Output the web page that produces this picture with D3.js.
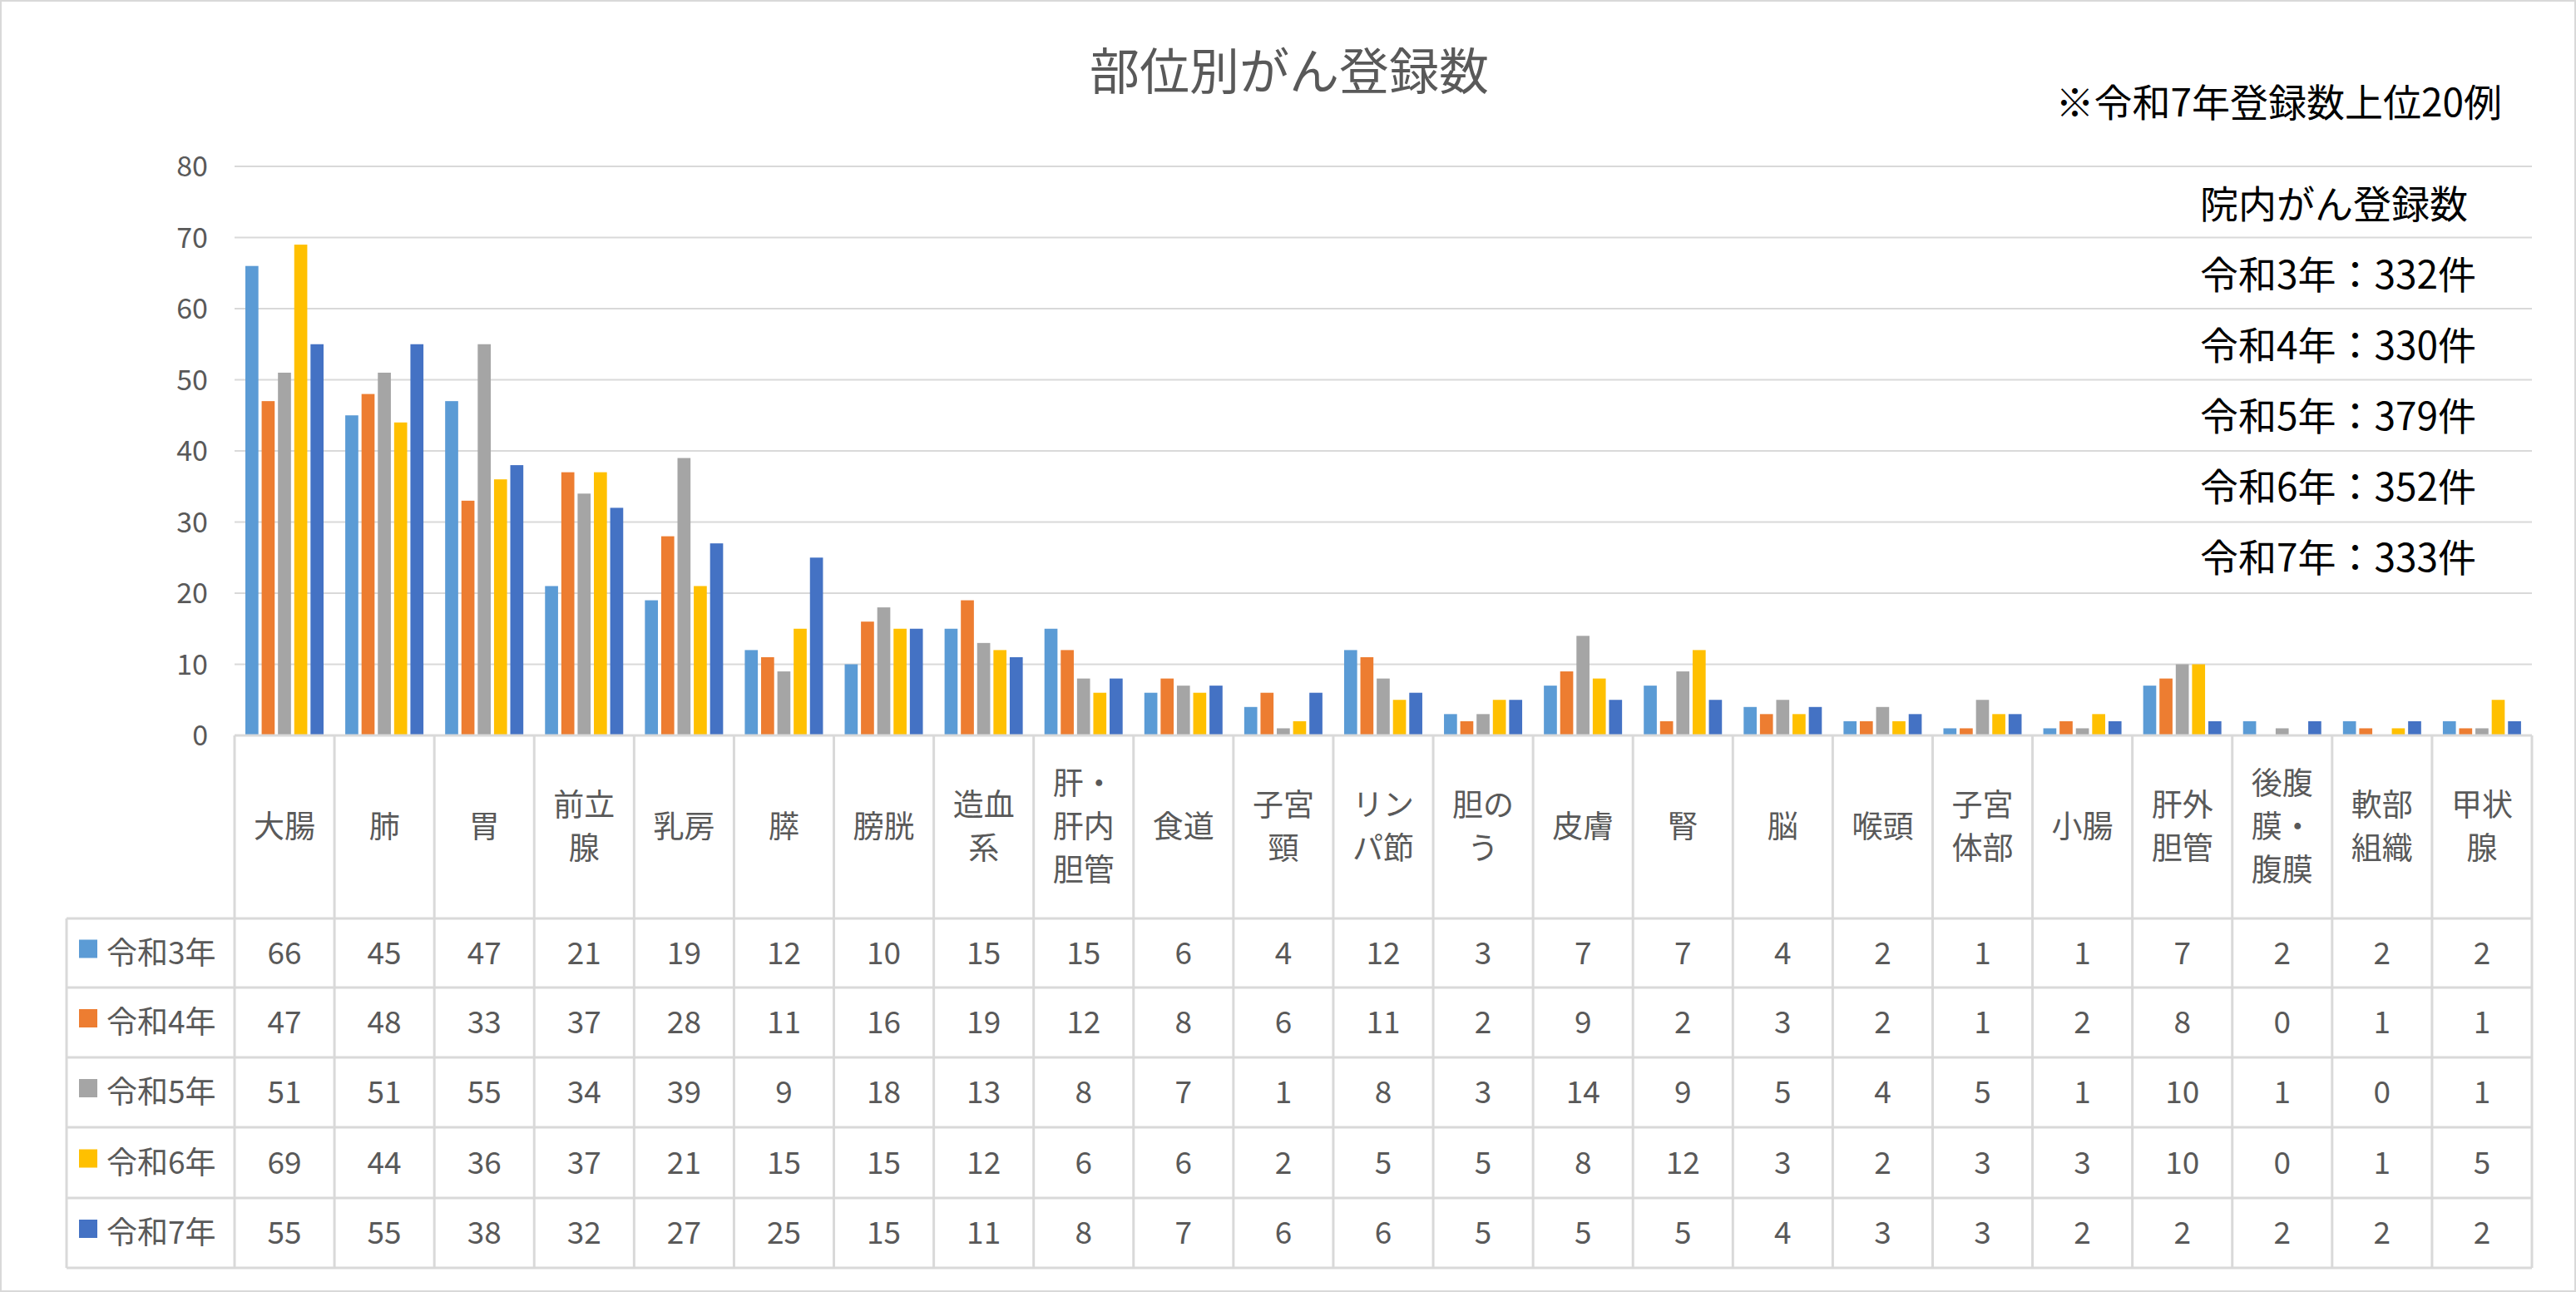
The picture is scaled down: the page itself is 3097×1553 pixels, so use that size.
<!DOCTYPE html><html><head><meta charset="utf-8"><script src="https://cdn.jsdelivr.net/npm/d3@7"></script>
<style>body{margin:0;background:#fff}text{font-family:"Noto Sans CJK JP","Noto Sans",sans-serif}</style></head><body>
<script>
const categories=["大腸","肺","胃","前立腺","乳房","膵","膀胱","造血系","肝・肝内胆管","食道","子宮頸","リンパ節","胆のう","皮膚","腎","脳","喉頭","子宮体部","小腸","肝外胆管","後腹膜・腹膜","軟部組織","甲状腺"];
const catLines=[["大腸"],["肺"],["胃"],["前立","腺"],["乳房"],["膵"],["膀胱"],["造血","系"],["肝・","肝内","胆管"],["食道"],["子宮","頸"],["リン","パ節"],["胆の","う"],["皮膚"],["腎"],["脳"],["喉頭"],["子宮","体部"],["小腸"],["肝外","胆管"],["後腹","膜・","腹膜"],["軟部","組織"],["甲状","腺"]];
const seriesNames=["令和3年","令和4年","令和5年","令和6年","令和7年"];
const r3=[66,45,47,21,19,12,10,15,15,6,4,12,3,7,7,4,2,1,1,7,2,2,2];
const r4=[47,48,33,37,28,11,16,19,12,8,6,11,2,9,2,3,2,1,2,8,0,1,1];
const r5=[51,51,55,34,39,9,18,13,8,7,1,8,3,14,9,5,4,5,1,10,1,0,1];
const r6=[69,44,36,37,21,15,15,12,6,6,2,5,5,8,12,3,2,3,3,10,0,1,5];
const r7=[55,55,38,32,27,25,15,11,8,7,6,6,5,5,5,4,3,3,2,2,2,2,2];
const series=[r3,r4,r5,r6,r7];
const colors=["#5b9bd5","#ed7d31","#a5a5a5","#ffc000","#4472c4"];
const yTicks=[0,10,20,30,40,50,60,70,80];
const notes=["院内がん登録数","令和3年：332件","令和4年：330件","令和5年：379件","令和6年：352件","令和7年：333件"];
const W=3097,H=1553;
const svg=d3.select("body").append("svg").attr("width",W).attr("height",H);
svg.append("rect").attr("x",1).attr("y",1).attr("width",W-2).attr("height",H-2).attr("fill","#fff").attr("stroke","#d9d9d9").attr("stroke-width",2);
const L=282,R=3044,T=200,B=884;
const x=d3.scaleBand().domain(categories).range([L,R]);
const y=d3.scaleLinear().domain([0,80]).range([B,T]);
const xs=d3.scaleBand().domain(d3.range(5)).range([13,107]).paddingInner(0.2);
const grid="#d9d9d9",txt="#595959";
svg.append("g").selectAll("line").data(yTicks.slice(1)).join("line").attr("x1",L).attr("x2",R).attr("y1",d=>y(d)).attr("y2",d=>y(d)).attr("stroke",grid).attr("stroke-width",2);
svg.append("g").selectAll("text").data(yTicks).join("text").attr("x",250).attr("y",d=>y(d)+12).attr("text-anchor","end").attr("font-size",34).attr("fill",txt).text(d=>d);
svg.append("text").attr("x",1550).attr("y",108).attr("text-anchor","middle").attr("font-size",60).attr("fill",txt).text("部位別がん登録数");
svg.append("text").attr("x",3008).attr("y",140).attr("text-anchor","end").attr("font-size",46).attr("fill","#000").text("※令和7年登録数上位20例");
svg.append("g").selectAll("text").data(notes).join("text").attr("x",2645).attr("y",(d,i)=>262+i*85).attr("font-size",46).attr("fill","#000").text(d=>d);
series.forEach((s,si)=>{
 svg.append("g").selectAll("rect").data(s).join("rect").attr("x",(d,i)=>x(categories[i])+xs(si)).attr("width",xs.bandwidth()).attr("y",d=>y(d)).attr("height",d=>B-y(d)).attr("fill",colors[si]);
});
const TL=80,rowTop=[884,1104,1187,1271,1355,1440,1524];
const tg=svg.append("g").attr("stroke",grid).attr("stroke-width",3);
tg.append("line").attr("x1",L).attr("x2",R).attr("y1",B).attr("y2",B);
rowTop.slice(1).forEach(v=>tg.append("line").attr("x1",TL).attr("x2",R).attr("y1",v).attr("y2",v));
tg.append("line").attr("x1",TL).attr("x2",TL).attr("y1",1104).attr("y2",1524);
categories.forEach(c=>tg.append("line").attr("x1",x(c)).attr("x2",x(c)).attr("y1",B).attr("y2",1524));
tg.append("line").attr("x1",R).attr("x2",R).attr("y1",B).attr("y2",1524);
catLines.forEach((ls,i)=>{const cx=x(categories[i])+x.bandwidth()/2;const n=ls.length;
 ls.forEach((l,j)=>svg.append("text").attr("x",cx).attr("y",994+(j-(n-1)/2)*52+13).attr("text-anchor","middle").attr("font-size",37).attr("fill",txt).text(l));});
series.forEach((s,si)=>{const cy=(rowTop[si+1]+rowTop[si+2])/2;
 svg.append("rect").attr("x",95).attr("y",cy-16).attr("width",22).attr("height",22).attr("fill",colors[si]);
 svg.append("text").attr("x",128).attr("y",cy+13).attr("font-size",37).attr("fill",txt).text(seriesNames[si]);
 svg.append("g").selectAll("text").data(s).join("text").attr("x",(d,i)=>x(categories[i])+x.bandwidth()/2).attr("y",cy+13).attr("text-anchor","middle").attr("font-size",37).attr("fill",txt).text(d=>d);
});
</script></body></html>
